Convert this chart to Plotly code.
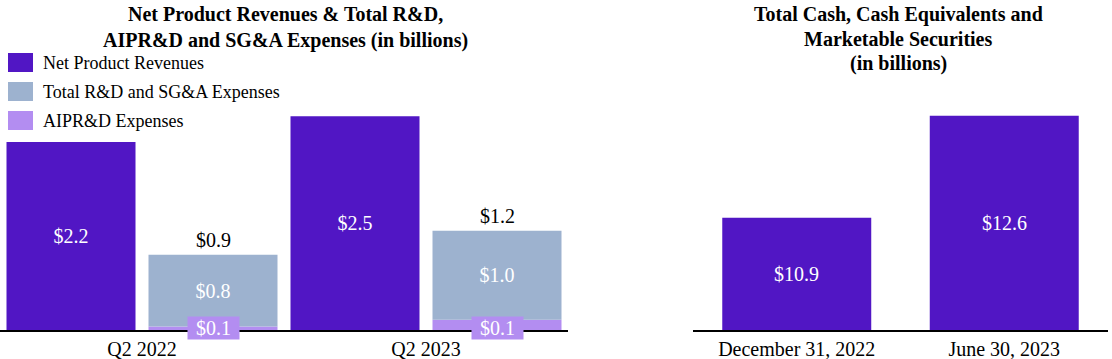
import plotly.graph_objects as go

# ---- data ----
quarters = ["Q2 2022", "Q2 2023"]
net_product_revenues = [2.2, 2.5]
rd_sga_expenses = [0.84, 1.04]
aiprd_expenses = [0.04, 0.12]
revenue_labels = ["$2.2", "$2.5"]
rd_sga_labels = ["$0.8", "$1.0"]
aiprd_labels = ["$0.1", "$0.1"]
total_expense_labels = ["$0.9", "$1.2"]

cash_dates = ["December 31, 2022", "June 30, 2023"]
cash_values = [10.9, 12.6]
cash_labels = ["$10.9", "$12.6"]

series_names = ["Net Product Revenues", "Total R&D and SG&A Expenses", "AIPR&D Expenses"]

# ---- style ----
C_REV = "#5116c4"
C_EXP = "#9db2cf"
C_AIP = "#b38df1"
FONT = "Liberation Serif"
W, H = 1112, 359
PLOT_H = 330
CASH_MIN, CASH_MAX = 9.03, 14.53

def py(p):
    return 1 - p / PLOT_H

fig = go.Figure()

fig.add_trace(go.Bar(
    x=quarters, y=net_product_revenues, name=series_names[0], offsetgroup="rev",
    marker=dict(color=C_REV, line=dict(width=0)), text=revenue_labels,
    textposition="inside", insidetextanchor="middle",
    textfont=dict(color="white", size=20, family=FONT), showlegend=False,
    xaxis="x", yaxis="y"))
fig.add_trace(go.Bar(
    x=quarters, y=aiprd_expenses, name=series_names[2], offsetgroup="exp",
    marker=dict(color=C_AIP, line=dict(width=0)), showlegend=False,
    xaxis="x", yaxis="y"))
fig.add_trace(go.Bar(
    x=quarters, y=rd_sga_expenses, base=aiprd_expenses, name=series_names[1], offsetgroup="exp",
    marker=dict(color=C_EXP, line=dict(width=0)), text=rd_sga_labels,
    textposition="inside", insidetextanchor="middle",
    textfont=dict(color="white", size=20, family=FONT), showlegend=False,
    xaxis="x", yaxis="y"))

fig.add_trace(go.Bar(
    x=cash_dates, y=cash_values, name="Cash", width=0.718,
    marker=dict(color=C_REV, line=dict(width=0)),
    showlegend=False, xaxis="x2", yaxis="y2"))

annotations = []
# totals above expense bars and AIPR&D labels
for q, a, r, tl, al in zip(quarters, aiprd_expenses, rd_sga_expenses, total_expense_labels, aiprd_labels):
    annotations.append(dict(x=q, y=a + r, xref="x", yref="y", text=tl, showarrow=False,
                            xshift=71, yanchor="bottom", yshift=2,
                            font=dict(size=20, family=FONT, color="black")))
    annotations.append(dict(x=q, y=0, xref="x", yref="y", text=al, showarrow=False,
                            xshift=71, yanchor="middle", yshift=2, bgcolor=C_AIP, borderpad=1,
                            width=49, height=20,
                            font=dict(size=20, family=FONT, color="white")))

# labels inside the cash bars (centred on the visible part of each bar)
for d, v, lab in zip(cash_dates, cash_values, cash_labels):
    annotations.append(dict(x=d, y=(CASH_MIN + v) / 2, xref="x2", yref="y2", text=lab, showarrow=False,
                            xanchor="center", yanchor="middle",
                            font=dict(size=20, family=FONT, color="white")))

# titles
for txt, yp in [("Net Product Revenues & Total R&D,", 14), ("AIPR&D and SG&A Expenses (in billions)", 40)]:
    annotations.append(dict(x=285 / W, y=py(yp), xref="paper", yref="paper", text="<b>%s</b>" % txt,
                            showarrow=False, xanchor="center", yanchor="middle",
                            font=dict(size=20, family=FONT, color="black")))
for txt, yp in [("Total Cash, Cash Equivalents and", 14), ("Marketable Securities", 39), ("(in billions)", 63)]:
    annotations.append(dict(x=898 / W, y=py(yp), xref="paper", yref="paper", text="<b>%s</b>" % txt,
                            showarrow=False, xanchor="center", yanchor="middle",
                            font=dict(size=20, family=FONT, color="black")))

# legend
shapes = []
for i, (nm, col) in enumerate(zip(series_names, [C_REV, C_EXP, C_AIP])):
    yc = 62.5 + 29 * i
    shapes.append(dict(type="rect", xref="paper", yref="paper", x0=8 / W, x1=33 / W,
                       y0=py(yc + 9.5), y1=py(yc - 9.5), fillcolor=col, line=dict(width=0)))
    annotations.append(dict(x=41 / W, y=py(yc), xref="paper", yref="paper", text=nm, showarrow=False,
                            xanchor="left", yanchor="middle", font=dict(size=18, family=FONT, color="black")))

axis_common = dict(range=[-0.5, 1.5], showline=True, linecolor="black", linewidth=2,
                   ticks="", showgrid=False, tickfont=dict(size=20, family=FONT, color="black"),
                   fixedrange=True)

fig.update_layout(
    width=W, height=H, margin=dict(l=0, r=0, t=0, b=H - PLOT_H),
    paper_bgcolor="white", plot_bgcolor="white",
    barmode="group", bargap=0, bargroupgap=0.0915,
    font=dict(family=FONT, size=20, color="black"),
    xaxis=dict(domain=[0, 568 / W], **axis_common),
    yaxis=dict(range=[0, 3.86], visible=False, fixedrange=True),
    xaxis2=dict(domain=[693 / W, 1108 / W], anchor="y2", **axis_common),
    yaxis2=dict(range=[CASH_MIN, CASH_MAX], visible=False, anchor="x2", fixedrange=True),
    annotations=annotations, shapes=shapes, showlegend=False,
    uniformtext=dict(minsize=20, mode="show"),
)

fig.write_html("out.html", config=dict(displayModeBar=False),
               post_script="document.body.style.margin='0';document.body.style.overflow='hidden';")
